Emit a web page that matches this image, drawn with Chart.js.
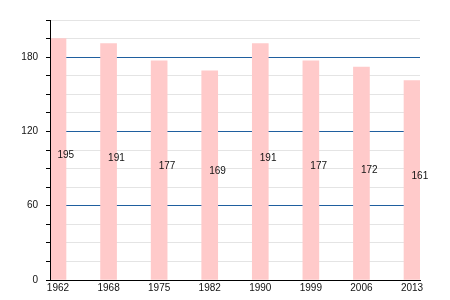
<!DOCTYPE html>
<html>
<head>
<meta charset="utf-8">
<script src="https://cdn.jsdelivr.net/npm/chart.js@4/dist/chart.umd.min.js"></script>
<style>
  html, body { margin: 0; padding: 0; background: #fff; }
  #wrap { width: 450px; height: 300px; }
</style>
</head>
<body>
<div id="wrap"><canvas id="popChart" width="450" height="300"></canvas></div>
<script>
const years = ['1962', '1968', '1975', '1982', '1990', '1999', '2006', '2013'];
const population = [195, 191, 177, 169, 191, 177, 172, 161];
const yLabels = [0, 60, 120, 180];

// étiquettes au milieu des barres + axe vertical redessiné par-dessus
const valueLabels = {
    id: 'valueLabels',
    afterDatasetsDraw(chart) {
        const ctx = chart.ctx;
        const area = chart.chartArea;
        const meta = chart.getDatasetMeta(0);
        ctx.save();
        ctx.strokeStyle = '#000';
        ctx.lineWidth = 1;
        ctx.beginPath();
        ctx.moveTo(Math.round(area.left) + 0.5, area.top);
        ctx.lineTo(Math.round(area.left) + 0.5, area.bottom);
        ctx.stroke();
        ctx.font = '10px "Liberation Sans", Arial, sans-serif';
        ctx.fillStyle = '#111';
        ctx.textAlign = 'left';
        ctx.textBaseline = 'middle';
        meta.data.forEach((bar, i) => {
            ctx.fillText(population[i], bar.x - 0.5, (bar.y + bar.base) / 2 - 3.5);
        });
        ctx.restore();
    }
};

new Chart(document.getElementById('popChart'), {
    type: 'bar',
    data: {
        datasets: [{
            data: population.map((v, i) => ({ x: i, y: v })),
            backgroundColor: '#ffcaca',
            borderWidth: 0,
            barThickness: 16
        }]
    },
    plugins: [valueLabels],
    options: {
        responsive: false,
        animation: false,
        layout: { padding: { left: 0, right: 30, top: 20, bottom: 0 } },
        plugins: { legend: { display: false }, tooltip: { enabled: false } },
        scales: {
            x: {
                type: 'linear',
                offset: false,
                min: -0.158,
                max: 7.158,
                afterBuildTicks: s => { s.ticks = years.map((_, i) => ({ value: i })); },
                afterFit: s => { s.height = 20; },
                grid: { display: false, offset: false, drawTicks: false, tickLength: 0 },
                border: { color: '#000', width: 1 },
                ticks: {
                    autoSkip: false,
                    maxRotation: 0,
                    padding: 2,
                    color: '#111',
                    font: { family: '"Liberation Sans", Arial, sans-serif', size: 10 },
                    callback: v => years[v]
                }
            },
            y: {
                min: 0,
                max: 210,
                afterFit: s => { s.width = 50; },
                ticks: {
                    stepSize: 15,
                    padding: 8,
                    color: '#111',
                    font: { family: '"Liberation Sans", Arial, sans-serif', size: 10 },
                    callback: v => yLabels.includes(v) ? String(v) : ''
                },
                grid: {
                    color: c => (c.index > 0 && c.index % 4 === 0) ? '#1f5f9f' : '#e4e4e4',
                    lineWidth: 1,
                    tickColor: '#000',
                    tickLength: 4
                },
                border: { color: '#000', width: 1 }
            }
        }
    }
});
</script>
</body>
</html>
